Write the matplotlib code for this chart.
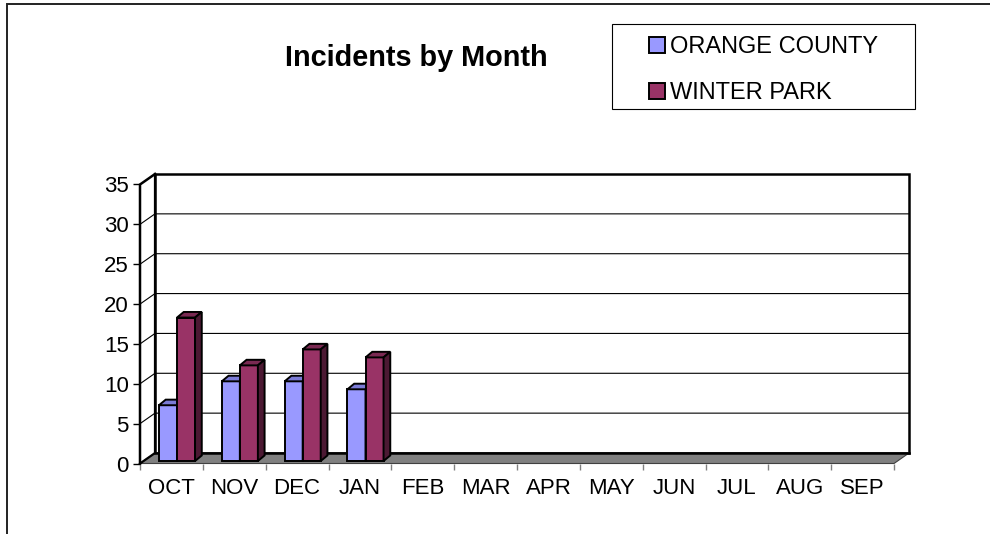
import matplotlib
matplotlib.use('Agg')
import matplotlib.pyplot as plt
import numpy as np
from matplotlib.patches import Polygon, Rectangle, Patch

months = ['OCT', 'NOV', 'DEC', 'JAN', 'FEB', 'MAR', 'APR', 'MAY', 'JUN', 'JUL', 'AUG', 'SEP']
orange_county = [7, 10, 10, 9]
winter_park = [18, 12, 14, 13]
series_names = ['ORANGE COUNTY', 'WINTER PARK']
y_ticks = [0, 5, 10, 15, 20, 25, 30, 35]

plt.rcParams['font.family'] = ['Liberation Sans', 'DejaVu Sans']

W, H = 990, 534
fig = plt.figure(figsize=(W / 100, H / 100), dpi=100)

# outer chart border (runs off the right and bottom edge)
fig.add_artist(Rectangle((7 / W, -0.1), 1.2, (H - 4) / H + 0.1, transform=fig.transFigure,
                         facecolor='none', edgecolor='#222222', lw=1.4))

ax = fig.add_axes([140 / W, (H - 463.5) / H, (894 - 140) / W, (463.5 - 184.5) / H])
n = len(months)
ymax = y_ticks[-1]
ax.set_xlim(0, n)
ax.set_ylim(0, ymax)
ax.patch.set_visible(False)
for s in ax.spines.values():
    s.set_visible(False)

# depth of the 3d box, in data units
DX, DY = 0.239, 1.317

# back wall + gridlines
ax.add_patch(Rectangle((DX, DY), n, ymax, facecolor='white', edgecolor='black',
                       lw=1.8, clip_on=False, zorder=1))
for v in y_ticks[1:-1]:
    ax.plot([0, DX, n + DX], [v, v + DY, v + DY], color='black', lw=0.8,
            clip_on=False, zorder=1.5)

# floor
ax.add_patch(Polygon([(0, 0), (n, 0), (n + DX, DY), (DX, DY)], closed=True,
                     facecolor='#808080', edgecolor='#404040', lw=0.8, clip_on=False, zorder=2))
ax.plot([DX, n + DX], [DY, DY], color='black', lw=1.8, clip_on=False, zorder=2.1)

# front-left axis and side wall edges
ax.plot([0, 0, DX], [0, ymax, ymax + DY], color='black', lw=1.8, clip_on=False,
        zorder=2.2, solid_joinstyle='miter')
ax.plot([0, DX], [0, DY], color='black', lw=1.6, clip_on=False, zorder=2.2)
ax.plot([DX, DX], [DY, ymax + DY], color='black', lw=1.6, clip_on=False, zorder=2.2)

# 3d bars
bw = 0.287
bdx, bdy = 0.107, 0.7
off = 0.302
by0 = 0.31
colors = [('#9999FF', '#7B7BD6', '#5C5C99'), ('#993366', '#7A2952', '#4C1933')]
z = 3
for i in range(len(orange_county)):
    for k, vals in enumerate([orange_county, winter_park]):
        v = vals[i]
        x0 = i + off + k * bw
        front, top, side = colors[k]
        ax.add_patch(Rectangle((x0, by0), bw, v, facecolor=front, edgecolor='black',
                               lw=1.4, clip_on=False, zorder=z))
        ax.add_patch(Polygon([(x0, by0 + v), (x0 + bw, by0 + v), (x0 + bw + bdx, by0 + v + bdy),
                              (x0 + bdx, by0 + v + bdy)], closed=True, facecolor=top,
                             edgecolor='black', lw=1.4, clip_on=False, zorder=z))
        ax.add_patch(Polygon([(x0 + bw, by0), (x0 + bw + bdx, by0 + bdy),
                              (x0 + bw + bdx, by0 + v + bdy), (x0 + bw, by0 + v)], closed=True,
                             facecolor=side, edgecolor='black', lw=1.4, clip_on=False, zorder=z))
        z += 0.1

# ticks
ax.set_yticks(y_ticks)
ax.tick_params(axis='y', length=5, width=1, pad=3, labelsize=16, color='black')
ax.set_xticks(np.arange(n) + 0.5, months)
ax.set_xticks(np.arange(n + 1), minor=True)
ax.tick_params(axis='x', which='major', length=0, pad=10.5, labelsize=16)
ax.tick_params(axis='x', which='minor', length=4, width=1, color='#808080')

# title
fig.text(416.5 / W, 1 - 66 / H, 'Incidents by Month', ha='center', va='baseline',
         fontsize=20.8, fontweight='bold')

# legend
fig.add_artist(Rectangle((612 / W, 1 - 109 / H), 303 / W, 85 / H, transform=fig.transFigure,
                         facecolor='white', edgecolor='black', lw=0.8))
handles = [Patch(facecolor=c[0], edgecolor='black', lw=1.4) for c in colors]
fig.legend(handles, series_names, loc='center left', bbox_to_anchor=(649 / W, 1 - 70.3 / H),
           frameon=False, fontsize=17, handlelength=0.68, handleheight=0.68,
           handletextpad=0.21, labelspacing=1.0, borderpad=0, borderaxespad=0)

fig.savefig('out.png', dpi=100)
